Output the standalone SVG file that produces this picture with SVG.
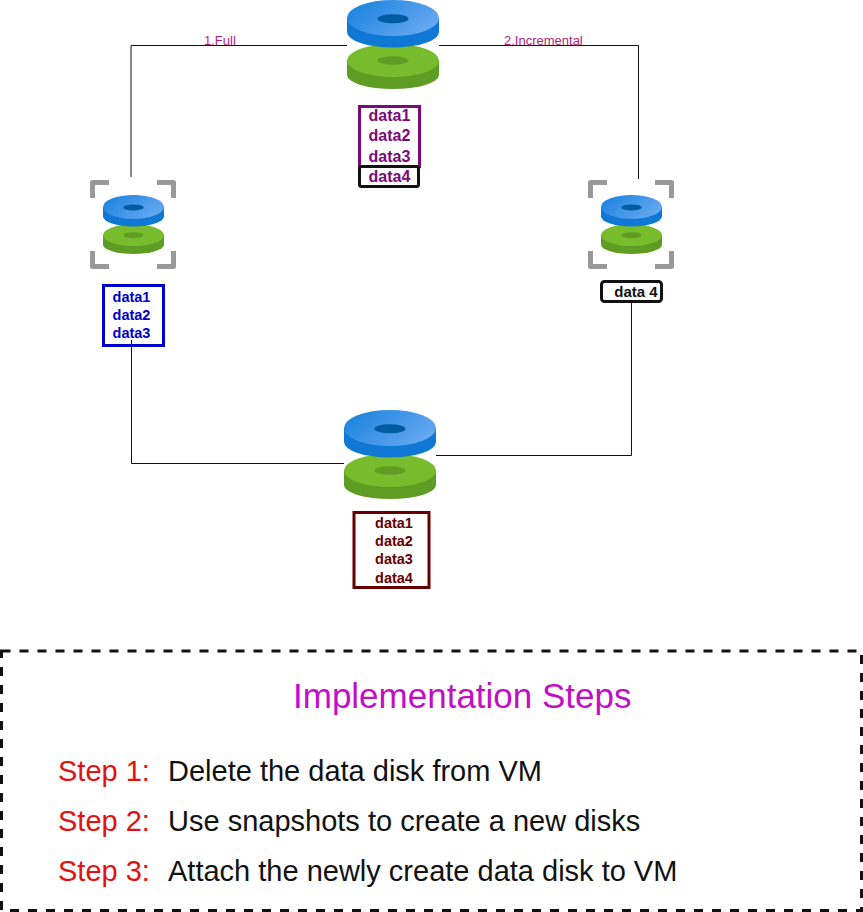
<svg xmlns="http://www.w3.org/2000/svg" xmlns:xlink="http://www.w3.org/1999/xlink" width="863" height="912" viewBox="0 0 863 912">
<style>
text{font-family:"Liberation Sans",Arial,sans-serif}
.d{font-weight:bold;text-anchor:middle}
.lbl{font-size:13px;fill:#b5237f}
.s{font-size:29px}
.r{fill:#e51010}
.k{fill:#111}
.wire{fill:none;stroke:#111;stroke-width:1}
.cam{fill:none;stroke:#999;stroke-width:5;stroke-linejoin:round}
</style>
<defs>
<linearGradient id="blue" x1="0" y1="0" x2="1" y2="0.5"><stop offset="0" stop-color="#1480dc"/><stop offset="1" stop-color="#64a6f0"/></linearGradient>
<g id="disk">
<path d="M0,60V75A46,14 0 0 0 92,75V60Z" fill="#5f9c24"/>
<ellipse cx="46" cy="60.500" rx="46" ry="16.500" fill="#76bc2d"/>
<ellipse cx="46" cy="60.500" rx="15.500" ry="4.300" fill="#5f9c24"/>
<path d="M0,18V32A46,15.500 0 0 0 92,32V18Z" fill="#0f78d4"/>
<ellipse cx="46" cy="18" rx="46" ry="18" fill="url(#blue)"/>
<ellipse cx="46" cy="18.800" rx="15.500" ry="4.500" fill="#005ba1"/>
</g>
<g id="cam"><path class="cam" d="M2.500,18V2.500H19M67,2.500H83.500V18M2.500,71V86.500H19M67,86.500H83.500V71"/></g>
</defs>
<g id="connectors">
<path class="wire" d="M131,177V45.500H347"/>
<path class="wire" d="M439,45.500H638.500V179"/>
<path class="wire" d="M131.500,340V463.500H344"/>
<path class="wire" d="M631.500,300V455.500H436"/>
</g>
<g id="label-full"><text class="lbl" x="204" y="45">1.Full</text></g>
<g id="label-incremental"><text class="lbl" x="504" y="45">2.Incremental</text></g>
<g id="disk-top"><use href="#disk" x="347" y="0"/></g>
<g id="data-top" fill="#7a0a7a">
<rect x="359.500" y="106.500" width="60" height="60" fill="#fff" stroke="#7a0a7a" stroke-width="3"/>
<rect x="359.500" y="166.500" width="59" height="20" rx="2" fill="#fff" stroke="#111" stroke-width="3"/>
<text class="d" x="389.500" y="121" font-size="16">data1</text>
<text class="d" x="389.500" y="141" font-size="16">data2</text>
<text class="d" x="389.500" y="161.500" font-size="16">data3</text>
<text class="d" x="389.500" y="182" font-size="16">data4</text>
</g>
<g id="disk-left">
<use href="#cam" x="90" y="180"/>
<use href="#disk" transform="translate(103 195) scale(.663)"/>
</g>
<g id="data-left" fill="#0000cc">
<rect x="103.500" y="285.500" width="60" height="60" fill="none" stroke="#0000cc" stroke-width="3"/>
<text class="d" x="131.500" y="302" font-size="14.500">data1</text>
<text class="d" x="131.500" y="320" font-size="14.500">data2</text>
<text class="d" x="131.500" y="338" font-size="14.500">data3</text>
</g>
<g id="disk-right">
<use href="#cam" x="588" y="180"/>
<use href="#disk" transform="translate(601 195) scale(.663)"/>
</g>
<g id="data-right">
<rect x="601.500" y="281.500" width="60" height="20" rx="3" fill="#fff" stroke="#111" stroke-width="3"/>
<text class="d" x="636" y="297" font-size="15" fill="#111">data 4</text>
</g>
<g id="disk-bottom"><use href="#disk" x="344" y="410"/></g>
<g id="data-bottom" fill="#660000">
<rect x="354" y="512.500" width="75" height="75" fill="#fff" stroke="#660000" stroke-width="3"/>
<text class="d" x="394" y="528" font-size="14.500">data1</text>
<text class="d" x="394" y="546" font-size="14.500">data2</text>
<text class="d" x="394" y="564" font-size="14.500">data3</text>
<text class="d" x="394" y="583" font-size="14.500">data4</text>
</g>
<g id="steps">
<rect x="1.500" y="651" width="860" height="259.500" fill="none" stroke="#111" stroke-width="3" stroke-dasharray="9 9"/>
<text x="293" y="708" font-size="35" fill="#c30fc3">Implementation Steps</text>
<text class="s r" x="58" y="780.500">Step 1:</text><text class="s k" x="168" y="780.500">Delete the data disk from VM</text>
<text class="s r" x="58" y="830.500">Step 2:</text><text class="s k" x="168" y="830.500">Use snapshots to create a new disks</text>
<text class="s r" x="58" y="880.500">Step 3:</text><text class="s k" x="168" y="880.500">Attach the newly create data disk to VM</text>
</g>
</svg>
